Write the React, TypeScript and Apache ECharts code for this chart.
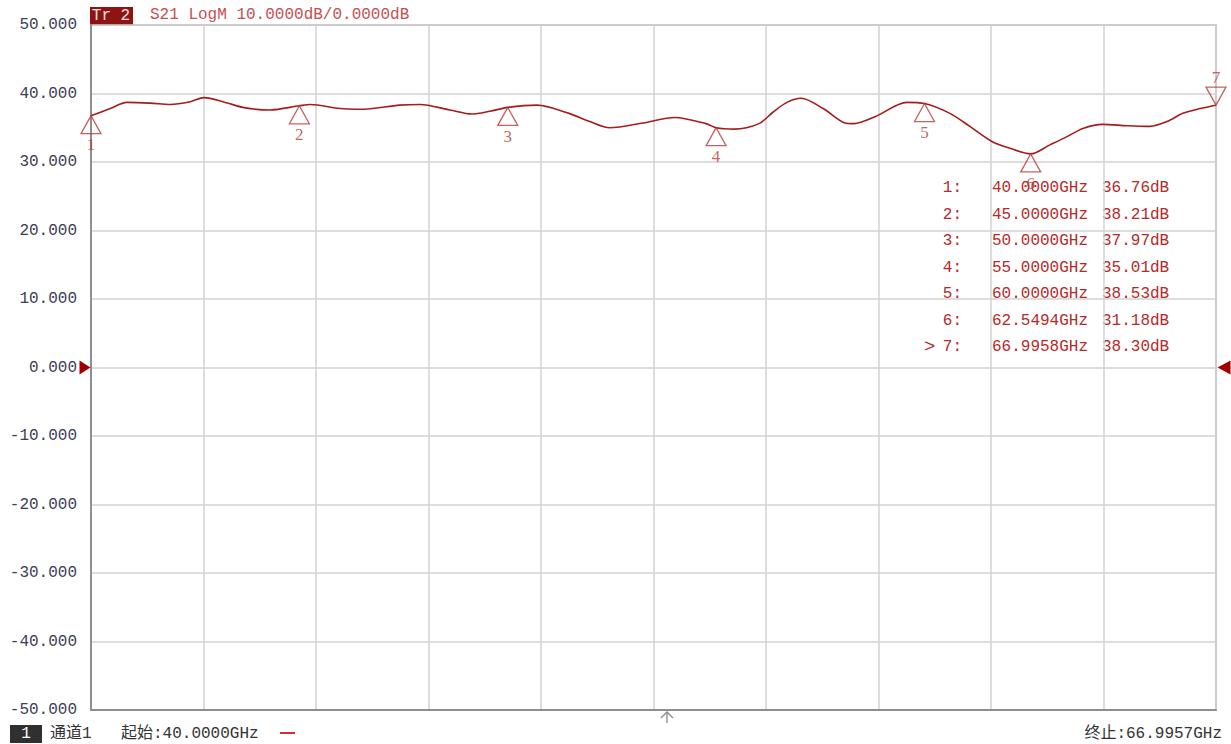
import React, { useEffect, useRef } from "react";
import * as echarts from "echarts";

const START_FREQ = 40.0;
const STOP_FREQ = 66.9957;

const traceFreqs = [
  40.0, 40.46, 40.86, 41.42, 41.9, 42.38, 42.71, 43.22, 43.7, 44.3, 45.0, 45.26, 45.98, 46.46,
  47.41, 47.89, 48.61, 49.14, 49.57, 50.0, 50.7, 51.47, 51.97, 52.45, 53.25, 54.01, 54.76, 55.0,
  55.43, 56.03, 56.37, 56.7, 57.04, 57.57, 58.09, 58.31, 58.81, 59.58, 60.0, 60.61, 61.09, 61.62,
  62.05, 62.55, 63.01, 63.42, 63.8, 64.28, 64.86, 65.41, 65.82, 66.2, 66.61, 66.9958,
];
const traceValues = [
  36.76, 37.8, 38.7, 38.6, 38.4, 38.8, 39.4, 38.7, 37.9, 37.6, 38.21, 38.4, 37.8, 37.7,
  38.3, 38.4, 37.6, 37.0, 37.4, 37.97, 38.3, 37.1, 35.9, 35.0, 35.7, 36.5, 35.6, 35.01,
  34.8, 35.6, 37.3, 38.7, 39.3, 37.8, 35.7, 35.6, 36.6, 38.7, 38.53, 37.1, 35.2, 33.0,
  32.0, 31.18, 32.5, 33.7, 34.9, 35.5, 35.3, 35.2, 35.9, 37.1, 37.8, 38.3,
];

const markerIds = [1, 2, 3, 4, 5, 6, 7];
const markerFreqs = [40.0, 45.0, 50.0, 55.0, 60.0, 62.5494, 66.9958];
const markerValues = [36.76, 38.21, 37.97, 35.01, 38.53, 31.18, 38.3];
const activeMarker = 7;

const yTicks = { min: -50, max: 50, interval: 10 };
const titleText = "S21 LogM 10.0000dB/0.0000dB";

const MONO = "'Liberation Mono', 'Noto Sans CJK SC', monospace";
const RED = "#b52a2a";

export default function App() {
  const ref = useRef<HTMLDivElement>(null);
  useEffect(() => {
    if (!ref.current) return;
    const chart = echarts.init(ref.current, undefined, { renderer: "svg" });
    const all = markerIds.map((id, i) => ({ id, f: markerFreqs[i], v: markerValues[i] }));
    const upMarkers = all.filter((m) => m.id !== activeMarker);
    const downMarkers = all.filter((m) => m.id === activeMarker);

    const tableTexts: any[] = [];
    markerIds.forEach((id, i) => {
      const y = 188 + i * 26.5;
      if (id === activeMarker) {
        tableTexts.push({
          type: "text",
          x: 924,
          y,
          style: { text: ">", verticalAlign: "middle", fill: RED, font: `19px ${MONO}` },
        });
      }
      tableTexts.push({
        type: "text",
        x: 962,
        y,
        style: {
          text: id + ":",
          align: "right",
          verticalAlign: "middle",
          fill: RED,
          font: `16px ${MONO}`,
        },
      });
      tableTexts.push({
        type: "text",
        x: 992,
        y,
        style: {
          text: markerFreqs[i].toFixed(4) + "GHz",
          verticalAlign: "middle",
          fill: RED,
          font: `16px ${MONO}`,
        },
      });
      tableTexts.push({
        type: "text",
        x: 1102,
        y,
        style: {
          text: markerValues[i].toFixed(2) + "dB",
          verticalAlign: "middle",
          fill: RED,
          font: `16px ${MONO}`,
        },
      });
    });

    chart.setOption({
      animation: false,
      backgroundColor: "#ffffff",
      grid: {
        left: 91,
        top: 25,
        width: 1125,
        height: 685,
        show: true,
        borderColor: "#a6a6a6",
        borderWidth: 1.5,
      },
      xAxis: [
        {
          type: "value",
          min: START_FREQ,
          max: STOP_FREQ,
          axisLabel: { show: false },
          axisTick: { show: false },
          splitLine: { show: false },
          axisLine: { show: true, onZero: false, lineStyle: { color: "#8e8e8e", width: 2 } },
        },
        {
          type: "value",
          min: 0,
          max: 10,
          interval: 1,
          position: "bottom",
          axisLabel: { show: false },
          axisTick: { show: false },
          axisLine: { show: false, onZero: false },
          splitLine: { show: true, lineStyle: { color: "#d2d2d2", width: 1.5 } },
        },
      ],
      yAxis: {
        type: "value",
        min: yTicks.min,
        max: yTicks.max,
        interval: yTicks.interval,
        axisLine: { show: true, onZero: false, lineStyle: { color: "#8e8e8e", width: 2 } },
        axisTick: { show: false },
        splitLine: { show: true, lineStyle: { color: "#d2d2d2", width: 1.5 } },
        axisLabel: {
          formatter: (v: number) => v.toFixed(3),
          color: "#3d3d55",
          fontSize: 16,
          fontFamily: MONO,
          margin: 14,
        },
      },
      series: [
        {
          type: "line",
          xAxisIndex: 0,
          data: traceFreqs.map((f, i) => [f, traceValues[i]]),
          showSymbol: false,
          smooth: 0.3,
          lineStyle: { color: "#a51c1c", width: 1.6 },
          z: 3,
          markPoint: {
            silent: true,
            label: { show: false },
            data: [
              {
                coord: [START_FREQ, 0],
                symbol: "path://M0,0 L10,7 L0,14 Z",
                symbolSize: [11, 14],
                symbolOffset: [-6, 0],
                itemStyle: { color: "#a00000" },
              },
              {
                coord: [STOP_FREQ, 0],
                symbol: "path://M10,0 L0,7 L10,14 Z",
                symbolSize: [13, 14],
                symbolOffset: [8, 0],
                itemStyle: { color: "#a00000" },
              },
            ],
          },
        },
        {
          type: "scatter",
          xAxisIndex: 0,
          data: upMarkers.map((m) => ({ value: [m.f, m.v], name: String(m.id) })),
          symbol: "path://M10,0 L20,18 L0,18 Z",
          symbolSize: [20, 18],
          symbolOffset: [0, 9],
          itemStyle: { color: "rgba(0,0,0,0)", borderColor: "#b83a3a", borderWidth: 1.3 },
          label: {
            show: true,
            position: "bottom",
            distance: 2,
            formatter: (p: any) => p.name,
            color: "#b83a3a",
            fontSize: 17,
            fontFamily: "'Liberation Serif', serif",
          },
          z: 4,
        },
        {
          type: "scatter",
          xAxisIndex: 0,
          data: downMarkers.map((m) => ({ value: [m.f, m.v], name: String(m.id) })),
          symbol: "path://M0,0 L20,0 L10,18 Z",
          symbolSize: [20, 18],
          symbolOffset: [0, -9],
          itemStyle: { color: "rgba(0,0,0,0)", borderColor: "#b83a3a", borderWidth: 1.3 },
          label: {
            show: true,
            position: "top",
            distance: 1,
            formatter: (p: any) => p.name,
            color: "#b83a3a",
            fontSize: 17,
            fontFamily: "'Liberation Serif', serif",
          },
          z: 4,
        },
      ],
      graphic: [
        { type: "rect", shape: { x: 90, y: 7, width: 43, height: 18 }, style: { fill: "#8e1414" } },
        {
          type: "text",
          x: 111,
          y: 16,
          style: { text: "Tr 2", align: "center", verticalAlign: "middle", fill: "#f5e0e0", font: `16px ${MONO}` },
        },
        {
          type: "text",
          x: 150,
          y: 15,
          style: { text: titleText, verticalAlign: "middle", fill: "#c45050", font: `16px ${MONO}` },
        },
        ...tableTexts,
        { type: "rect", shape: { x: 10, y: 725, width: 32, height: 18 }, style: { fill: "#303030" } },
        {
          type: "text",
          x: 26,
          y: 734,
          style: { text: "1", align: "center", verticalAlign: "middle", fill: "#ffffff", font: `16px ${MONO}` },
        },
        {
          type: "text",
          x: 50,
          y: 734,
          style: { text: "通道1", verticalAlign: "middle", fill: "#333333", font: `16px ${MONO}` },
        },
        {
          type: "text",
          x: 121,
          y: 734,
          style: {
            text: "起始:" + START_FREQ.toFixed(4) + "GHz",
            verticalAlign: "middle",
            fill: "#333333",
            font: `16px ${MONO}`,
          },
        },
        {
          type: "line",
          shape: { x1: 280, y1: 733, x2: 295, y2: 733 },
          style: { stroke: "#d03030", lineWidth: 2 },
        },
        {
          type: "text",
          x: 1222,
          y: 734,
          style: {
            text: "终止:" + STOP_FREQ.toFixed(4) + "GHz",
            align: "right",
            verticalAlign: "middle",
            fill: "#333333",
            font: `16px ${MONO}`,
          },
        },
        {
          type: "line",
          shape: { x1: 667, y1: 712, x2: 667, y2: 723 },
          style: { stroke: "#8a8a8a", lineWidth: 1.3 },
        },
        {
          type: "polyline",
          shape: { points: [[661, 718], [667, 712], [673, 718]] },
          style: { stroke: "#8a8a8a", lineWidth: 1.3, fill: null },
        },
      ],
    });
    return () => chart.dispose();
  }, []);
  return (
    <div
      ref={ref}
      style={{ position: "fixed", left: 0, top: 0, width: 1231, height: 744 }}
    />
  );
}
